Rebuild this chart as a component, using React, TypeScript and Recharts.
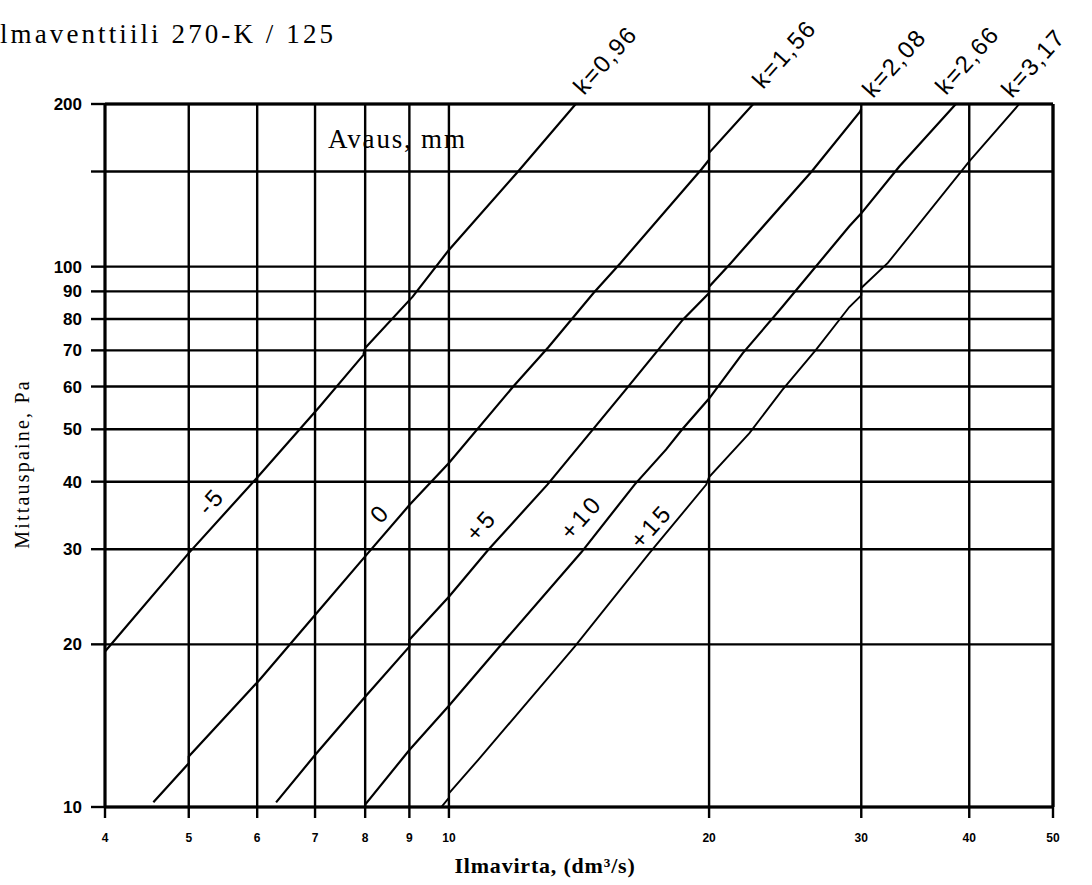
import { ComposedChart, Line, XAxis, YAxis, CartesianGrid, ReferenceLine } from 'recharts';

// log-log axes: air flow (dm3/s) vs. measured pressure (Pa)
const X_TICKS = [4, 5, 6, 7, 8, 9, 10, 20, 30, 40, 50];
const Y_TICKS = [10, 20, 30, 40, 50, 60, 70, 80, 90, 100, 150, 200];

// curves (q = flow, p = pressure), jogs at grid lines kept
const K096_Q = [4, 5, 6.04, 7.08, 7.96, 8, 9.08, 10, 12.03, 14.02];
const K096_P = [19.4, 29.5, 41.2, 55, 68.6, 70.7, 88, 107.4, 150.2, 200];

const K156_Q = [4.55, 5, 5, 6.04, 7, 8, 9, 10, 11.87, 13.04, 14.7, 15.8, 19.6, 20, 20, 22.5];
const K156_P = [10.2, 12.05, 12.4, 17.2, 22.66, 29.1, 36.2, 43.3, 60, 71, 89.4, 101.6, 151.5, 157.7, 162.4, 200];

const K208_Q = [6.31, 7, 8, 9, 9, 10, 11.1, 13, 16, 18.65, 20, 20, 21.2, 26.3, 29.9, 30];
const K208_P = [10.2, 12.48, 16, 19.8, 20.4, 24.5, 29.9, 39.5, 59.1, 79.8, 89.4, 91.8, 101.6, 150.2, 193.6, 196];

const K266_Q = [8, 8, 9, 10, 11.44, 14.23, 16.4, 17.84, 18.6, 20, 21.87, 24.3, 29.06, 30, 33.2, 38.6];
const K266_P = [10, 10.1, 12.75, 15.4, 19.8, 29.6, 39.5, 45.9, 49.9, 57, 69.1, 84.2, 118.8, 125.5, 153.2, 200];

const K317_Q = [9.8, 10, 10, 10.8, 13.98, 17.06, 19.85, 20, 22.27, 24.3, 26.6, 29.06, 30, 30, 32.2, 40, 45.7];
const K317_P = [10, 10.4, 10.6, 12.2, 19.8, 29.5, 39.5, 40.8, 49.2, 59.1, 70.2, 84.2, 88.5, 91.3, 101.6, 156.6, 200];

const K_LABELS = ['k=0,96', 'k=1,56', 'k=2,08', 'k=2,66', 'k=3,17'];
const OPENING_LABELS = ['-5', '0', '+5', '+10', '+15'];

const zip = (q: number[], p: number[]) => q.map((v, i) => ({ q: v, p: p[i] }));

const SERIES = [
  { name: 'k096', data: zip(K096_Q, K096_P), w: 2.2 },
  { name: 'k156', data: zip(K156_Q, K156_P), w: 2.2 },
  { name: 'k208', data: zip(K208_Q, K208_P), w: 2.2 },
  { name: 'k266', data: zip(K266_Q, K266_P), w: 2.2 },
  { name: 'k317', data: zip(K317_Q, K317_P), w: 1.9 },
];

// label placement (page px)
const K_POS = [[584, 96], [763, 90], [873, 99], [946, 96], [1012, 99]];
const OPEN_POS = [[211, 501], [380, 513], [481, 525], [581, 517], [651, 526]];

const sans = '"Liberation Sans", Arial, sans-serif';
const serif = '"Liberation Serif", "Times New Roman", serif';

export default function App() {
  return (
    <div style={{ position: 'absolute', left: 0, top: 0, width: 1092, height: 885, background: '#fff' }}>
      <ComposedChart
        width={1092}
        height={885}
        margin={{ top: 104, right: 39, bottom: 38, left: 45 }}
      >
        <CartesianGrid stroke="#000" strokeWidth={2.4} />
        <XAxis
          dataKey="q"
          type="number"
          scale="log"
          domain={[4, 50]}
          ticks={X_TICKS}
          interval={0}
          allowDataOverflow
          height={40}
          axisLine={{ stroke: '#000', strokeWidth: 3 }}
          tickLine={{ stroke: '#000', strokeWidth: 2.4 }}
          tickSize={11}
          tickMargin={15}
          tick={{ fontSize: 12, fontWeight: 700, fill: '#000', fontFamily: sans }}
        />
        <YAxis
          dataKey="p"
          type="number"
          scale="log"
          domain={[10, 200]}
          ticks={Y_TICKS}
          interval={0}
          allowDataOverflow
          width={60}
          axisLine={{ stroke: '#000', strokeWidth: 3 }}
          tickLine={{ stroke: '#000', strokeWidth: 2.4 }}
          tickSize={14}
          tickMargin={9}
          tickFormatter={(v: number) => (v === 150 ? '' : String(v))}
          tick={{ fontSize: 17, fontWeight: 700, fill: '#000', fontFamily: sans }}
        />
        <ReferenceLine y={200} stroke="#000" strokeWidth={3.2} />
        <ReferenceLine x={50} stroke="#000" strokeWidth={3.2} />
        {SERIES.map((s) => (
          <Line
            key={s.name}
            data={s.data}
            dataKey="p"
            type="linear"
            stroke="#000"
            strokeWidth={s.w}
            dot={false}
            activeDot={false}
            isAnimationActive={false}
          />
        ))}
      </ComposedChart>

      <svg
        width={1092}
        height={885}
        style={{ position: 'absolute', left: 0, top: 0, pointerEvents: 'none' }}
      >
        <text x={0} y={43} fontFamily={serif} fontSize={27} letterSpacing={3.1} fill="#000">
          lmaventtiili 270-K / 125
        </text>
        <text x={328} y={148} fontFamily={serif} fontSize={27} letterSpacing={1.8} fill="#000">
          Avaus, mm
        </text>
        <text
          x={0}
          y={0}
          transform="translate(29 464) rotate(-90)"
          textAnchor="middle"
          fontFamily={serif}
          fontSize={20}
          letterSpacing={2.2}
          fill="#000"
        >
          Mittauspaine, Pa
        </text>
        <text x={545} y={873} textAnchor="middle" fontFamily={serif} fontWeight={700} fontSize={22} letterSpacing={0.8} fill="#000">
          Ilmavirta, (dm³/s)
        </text>
        {K_LABELS.map((t, i) => (
          <text
            key={t}
            x={0}
            y={0}
            transform={`translate(${K_POS[i][0]} ${K_POS[i][1]}) rotate(-48)`}
            fontFamily={sans}
            fontSize={24}
            letterSpacing={1.5}
            fill="#000"
          >
            {t}
          </text>
        ))}
        {OPENING_LABELS.map((t, i) => (
          <text
            key={t}
            x={0}
            y={0}
            transform={`translate(${OPEN_POS[i][0]} ${OPEN_POS[i][1]}) rotate(-48)`}
            textAnchor="middle"
            dominantBaseline="central"
            fontFamily={sans}
            fontSize={24}
            letterSpacing={3}
            fill="#000"
          >
            {t}
          </text>
        ))}
      </svg>
    </div>
  );
}
